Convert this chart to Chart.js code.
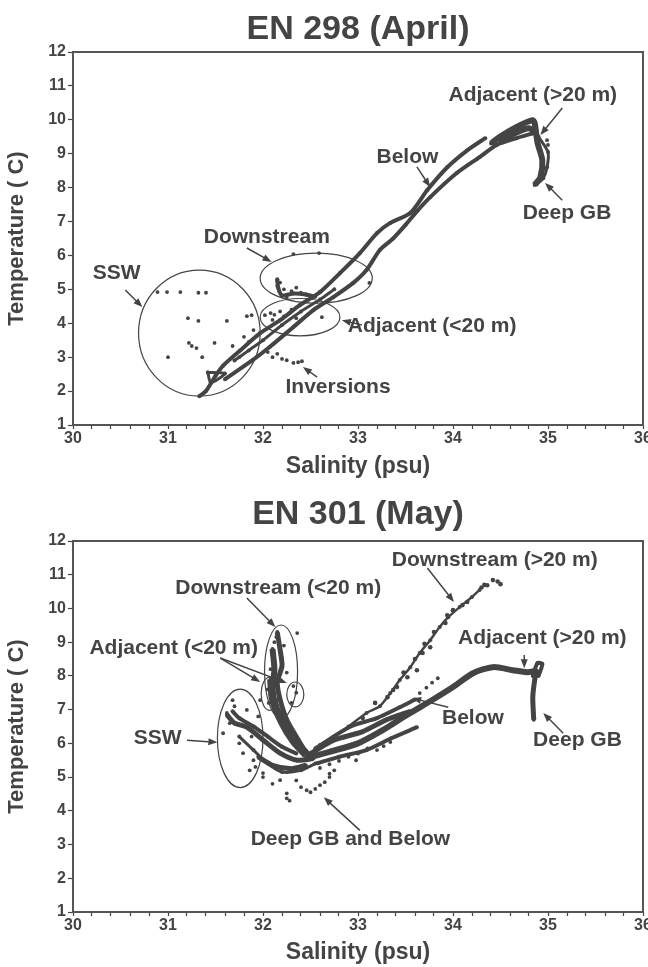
<!DOCTYPE html>
<html>
<head>
<meta charset="utf-8">
<script src="https://cdn.jsdelivr.net/npm/chart.js@4/dist/chart.umd.min.js"></script>
<style>
  body { margin: 0; background: #fff; }
  #wrap { position: relative; width: 648px; height: 967px; }
  canvas { position: absolute; left: 0; }
</style>
</head>
<body>
<div id="wrap">
  <canvas id="april" width="648" height="481" style="top:0;width:648px;height:481px"></canvas>
  <canvas id="may" width="648" height="486" style="top:481px;width:648px;height:486px"></canvas>
</div>
<script>
const INK = '#444';
const FONT = '"Liberation Sans", Arial, sans-serif';

// axis ranges
const salinityRange = [30, 36];
const temperatureRange = [1, 12];

// ---- EN 298 (April): [salinity, temperature]
const aprilUpper = [[31.33,1.85],[31.4,2.0],[31.5,2.45],[31.58,2.75],[31.76,3.2],[31.97,3.71],[32.18,4.09],[32.39,4.54],[32.6,4.92],[32.81,5.48],[33.02,6.07],[33.2,6.66],[33.34,6.96],[33.55,7.25],[33.73,7.93],[33.94,8.6],[34.15,9.1],[34.34,9.46]];
const aprilMiddle = [[31.7,2.9],[31.85,3.2],[32.0,3.5],[32.2,3.95],[32.4,4.35],[32.6,4.7],[32.75,5.0]];
const aprilLower = [[31.6,2.35],[31.89,2.91],[32.07,3.3],[32.32,3.89],[32.53,4.39],[32.74,4.77],[32.95,5.19],[33.09,5.57],[33.23,6.16],[33.37,6.5],[33.5,6.9],[33.62,7.3],[33.76,7.72],[34.04,8.43],[34.28,8.9],[34.46,9.26],[34.67,9.46],[34.84,9.6]];
const aprilWedge = [[31.42,2.55],[31.6,2.52],[31.45,2.25],[31.42,2.55]];
const aprilCluster = [[32.15,5.3],[32.16,5.05],[32.2,4.82],[32.32,4.88],[32.45,4.85],[32.55,4.78]];
const aprilPeak = [[34.4,9.3],[34.49,9.49],[34.67,9.79],[34.84,9.99],[34.86,9.9],[34.89,9.32],[34.94,8.81],[34.92,8.31],[34.86,8.08]];
const aprilPeakFill = [[34.5,9.35],[34.65,9.6],[34.8,9.75],[34.88,9.6]];
const aprilHookOuter = [[34.9,9.5],[35.0,9.05],[34.99,8.6],[34.95,8.28],[34.88,8.1]];
const aprilSSWDots = [[30.89,4.92],[30.99,4.92],[31.13,4.92],[31.32,4.9],[31.4,4.9],[31.21,4.15],[31.32,4.07],[31.62,4.07],[31.83,4.21],[31.88,4.24],[31.22,3.42],[31.25,3.33],[31.3,3.27],[31.36,3.0],[31.0,3.0],[31.49,3.42],[31.68,3.33],[31.8,3.6],[31.85,3.45],[31.75,3.0],[31.9,3.8]];
const aprilShallowDots = [[32.32,6.04],[32.59,6.07],[33.12,5.19],[32.15,5.25],[32.15,5.1],[32.17,4.95],[32.2,4.8],[32.18,5.2],[32.22,5.0],[32.3,4.95],[32.4,4.9],[32.45,4.85],[32.35,5.05],[32.25,4.75],[32.5,4.8],[32.02,4.24],[32.08,4.3],[32.12,4.25],[32.18,4.35],[32.22,4.2],[32.28,4.3],[32.35,4.15],[32.62,4.18],[32.1,4.1],[32.3,4.4]];
const aprilInversionDots = [[32.1,3.0],[32.15,3.1],[32.2,2.95],[32.25,2.91],[32.32,2.83],[32.37,2.85],[32.41,2.88],[32.05,3.15],[34.99,9.4],[35.0,9.26]];

// ---- EN 301 (May)
const mayDownDeep = [[32.6,5.95],[32.75,6.2],[32.9,6.5],[33.09,6.9],[33.23,7.1],[33.34,7.49],[33.44,7.88],[33.55,8.26],[33.65,8.68],[33.76,9.06],[33.86,9.45],[33.95,9.74],[34.07,10.04],[34.2,10.34],[34.28,10.55]];
const mayDownDeepDots = [[34.3,10.62],[34.36,10.69],[34.42,10.84],[34.47,10.8],[34.5,10.72],[34.33,10.7],[34.15,10.19],[33.94,9.8],[33.92,9.57],[33.76,8.85],[33.62,8.17],[33.52,7.96],[33.41,7.67],[33.31,7.37],[33.18,7.2],[33.05,6.75],[33.6,8.5],[33.8,9.3],[34.0,9.95],[34.1,10.1],[33.7,8.95],[33.48,8.1],[33.37,7.58],[33.68,8.68]];
const mayBelow = [[32.45,5.55],[32.7,5.75],[33.0,6.0],[33.26,6.39],[33.52,6.85],[33.79,7.3],[34.0,7.67],[34.21,8.08],[34.42,8.26],[34.63,8.17],[34.78,8.11],[34.88,8.15]];
const mayMiddle = [[32.55,5.85],[32.92,6.5],[33.2,6.75],[33.44,7.07],[33.6,7.3]];
const mayRightArm = [[32.57,5.41],[32.8,5.6],[33.09,5.8],[33.35,6.15],[33.62,6.48]];
const mayArmUpper = [[32.5,5.7],[32.75,6.1],[33.05,6.35],[33.3,6.7],[33.55,6.95]];
const mayDeepGB = [[34.88,8.15],[34.86,7.88],[34.84,7.37],[34.85,6.7]];
const maySpike = [[34.84,8.0],[34.89,8.38],[34.94,8.35],[34.9,8.0]];
const mayTrunk = [[32.15,9.3],[32.18,8.77],[32.2,8.3],[32.15,7.8],[32.18,7.3],[32.25,6.7],[32.35,6.2],[32.45,5.75],[32.52,5.55]];
const mayTrunkWide = [[32.08,7.9],[32.1,7.3],[32.2,6.6],[32.32,6.05],[32.45,5.65]];
const mayTrunkCore = [[32.1,8.8],[32.12,8.2],[32.1,7.6],[32.15,7.0],[32.28,6.4],[32.4,5.9],[32.5,5.6]];
const maySSW = [[31.62,6.85],[31.7,6.6],[31.83,6.48],[32.0,6.1],[32.18,5.71],[32.36,5.5],[32.53,5.55]];
const maySSWUpper = [[31.68,6.95],[31.75,6.75],[31.9,6.5],[32.05,6.2],[32.2,5.9],[32.35,5.7]];
const maySSWLow = [[31.75,6.2],[31.9,5.8],[32.05,5.4],[32.2,5.15],[32.4,5.2],[32.55,5.4]];
const mayCloud = [[31.95,5.6],[32.1,5.35],[32.3,5.25],[32.45,5.35]];
const mayLowDots = [[32.6,5.27],[32.7,5.38],[32.8,5.48],[32.9,5.6],[33.0,5.7],[33.1,5.85],[33.2,5.8],[33.27,5.92],[33.34,6.04],[32.98,5.5],[32.7,5.1],[32.75,5.2]];
const maySSWDots = [[31.68,7.28],[31.83,6.99],[31.97,7.28],[31.58,6.3],[31.79,5.71],[31.86,5.2],[31.7,7.1],[31.75,6.0],[31.9,5.5],[31.62,6.9],[31.95,6.8],[31.65,6.6],[31.88,6.2],[31.92,5.3],[32.0,5.0]];
const mayDeepDots = [[32.0,5.12],[32.18,4.91],[32.25,4.52],[32.46,4.61],[32.6,4.76],[32.25,4.37],[32.5,4.55],[32.55,4.65],[32.65,4.85],[32.4,4.7],[32.1,4.8],[32.28,4.3],[32.7,5.0],[32.35,4.9]];
const mayShallowDots = [[32.36,9.27],[32.12,9.0],[32.2,8.5],[32.1,8.6],[32.25,8.1],[32.05,7.6],[32.14,9.15],[32.22,8.9],[32.08,8.2],[32.3,7.2],[32.35,7.5],[32.32,7.7],[32.06,7.2]];
const mayBelowDots = [[33.65,7.49],[33.72,7.65],[33.78,7.8],[33.84,7.93]];

// annotations, in salinity/temperature units
const aprilNotes = {
  title: 'EN 298 (April)', titleY: 30,
  ellipses: [[31.33,3.71,0.64,1.86],[32.56,5.33,0.59,0.74],[32.39,4.18,0.42,0.55]],
  labels: [['Downstream',32.04,6.54],['SSW',30.46,5.48],['Adjacent (<20 m)',33.78,3.92],['Inversions',32.79,2.12],['Below',33.52,8.9],['Adjacent (>20 m)',34.84,10.73],['Deep GB',35.2,7.25]],
  arrows: [[31.83,6.22,32.09,5.81],[30.55,4.98,30.73,4.48],[33.04,3.95,32.83,4.09],[32.57,2.41,32.42,2.71],[33.62,8.61,33.76,8.02],[35.15,10.35,34.92,9.55],[35.15,7.63,34.97,8.14]]
};
const mayNotes = {
  title: 'EN 301 (May)', titleY: 34,
  ellipses: [[32.19,8.13,0.174,1.38],[32.07,7.47,0.09,0.49],[32.34,7.45,0.09,0.37],[31.76,6.15,0.24,1.46]],
  labels: [['Downstream (>20 m)',34.44,11.44],['Downstream (<20 m)',32.16,10.61],['Adjacent (<20 m)',31.06,8.82],['SSW',30.89,6.15],['Below',34.21,6.75],['Adjacent (>20 m)',34.94,9.12],['Deep GB',35.31,6.09],['Deep GB and Below',32.92,3.16]],
  arrows: [[33.73,11.2,34.01,10.19],[31.83,10.31,32.13,9.45],[31.55,8.53,31.97,7.82],[31.55,8.53,32.25,7.79],[31.2,6.09,31.52,6.03],[33.95,7.07,33.57,7.34],[34.75,8.62,34.75,8.23],[35.16,6.3,34.95,6.9],[33.02,3.42,32.64,4.4]]
};

const toXY = arr => arr.map(([s, t]) => ({x: s, y: t}));
const band = (arr, w) => ({data: toXY(arr), showLine: true, borderWidth: w, tension: 0.25,
  borderColor: INK, backgroundColor: INK, pointRadius: 2, pointBorderWidth: 0});
const dots = (arr, r) => ({data: toXY(arr), showLine: false, backgroundColor: INK,
  pointRadius: r || 1.9, pointBorderWidth: 0});

const framePlugin = {
  id: 'frame',
  beforeDatasetsDraw(chart) {
    const {ctx, chartArea: a} = chart;
    ctx.save();
    ctx.strokeStyle = '#555';
    ctx.lineWidth = 2;
    ctx.strokeRect(a.left, a.top, a.right - a.left, a.bottom - a.top);
    ctx.restore();
  }
};

const notesPlugin = {
  id: 'notes',
  afterDatasetsDraw(chart, args, opts) {
    const {ctx, chartArea, scales: {x, y}} = chart;
    const px = v => x.getPixelForValue(v), py = v => y.getPixelForValue(v);
    ctx.save();
    ctx.strokeStyle = INK;
    ctx.fillStyle = INK;
    ctx.lineWidth = 1.2;
    opts.ellipses.forEach(([cx, cy, rx, ry]) => {
      ctx.beginPath();
      ctx.ellipse(px(cx), py(cy), Math.abs(px(cx + rx) - px(cx)), Math.abs(py(cy + ry) - py(cy)), 0, 0, Math.PI * 2);
      ctx.stroke();
    });
    ctx.lineWidth = 1.5;
    opts.arrows.forEach(([s1, t1, s2, t2]) => {
      const x1 = px(s1), y1 = py(t1), x2 = px(s2), y2 = py(t2);
      const ang = Math.atan2(y2 - y1, x2 - x1);
      ctx.beginPath();
      ctx.moveTo(x1, y1);
      ctx.lineTo(x2 - 6 * Math.cos(ang), y2 - 6 * Math.sin(ang));
      ctx.stroke();
      ctx.beginPath();
      ctx.moveTo(x2, y2);
      ctx.lineTo(x2 - 9 * Math.cos(ang) + 3.5 * Math.sin(ang), y2 - 9 * Math.sin(ang) - 3.5 * Math.cos(ang));
      ctx.lineTo(x2 - 9 * Math.cos(ang) - 3.5 * Math.sin(ang), y2 - 9 * Math.sin(ang) + 3.5 * Math.cos(ang));
      ctx.closePath();
      ctx.fill();
    });
    ctx.textAlign = 'center';
    ctx.textBaseline = 'middle';
    ctx.font = 'bold 21px ' + FONT;
    opts.labels.forEach(([text, s, t]) => ctx.fillText(text, px(s), py(t)));
    // panel title, centred over the plot area
    ctx.font = 'bold 34px ' + FONT;
    ctx.fillText(opts.title, (chartArea.left + chartArea.right) / 2, opts.titleY);
    ctx.restore();
  }
};

function makeChart(id, topPad, xHeight, datasets, notes) {
  return new Chart(document.getElementById(id), {
    type: 'scatter',
    data: {datasets},
    options: {
      responsive: false,
      animation: false,
      layout: {padding: {left: 0, right: 5, top: topPad, bottom: 0}},
      scales: {
        x: {
          min: salinityRange[0], max: salinityRange[1],
          afterFit: s => { s.height = xHeight; s.paddingRight = 0; s.paddingTop = 0; },
          border: {display: false},
          grid: {drawOnChartArea: false, tickLength: 4, tickColor: INK, tickWidth: 1.2},
          ticks: {
            stepSize: 0.2, autoSkip: false, maxRotation: 0, padding: 0, color: INK,
            font: {family: FONT, size: 16, weight: 'bold'},
            callback: v => Math.abs(v - Math.round(v)) < 1e-6 ? String(Math.round(v)) : ''
          },
          title: {display: true, text: 'Salinity (psu)', color: INK,
            font: {family: FONT, size: 23, weight: 'bold'}, padding: {top: 0, bottom: 1}}
        },
        y: {
          min: temperatureRange[0], max: temperatureRange[1],
          afterFit: s => { s.width = 73; s.paddingTop = 0; },
          border: {display: false},
          grid: {drawOnChartArea: false, tickLength: 5, tickColor: INK, tickWidth: 1.2},
          ticks: {stepSize: 1, padding: 2, color: INK, font: {family: FONT, size: 16, weight: 'bold'}},
          title: {display: true, text: 'Temperature ( C)', color: INK,
            font: {family: FONT, size: 22, weight: 'bold'}, padding: {top: 4, bottom: 0}}
        }
      },
      plugins: {
        legend: {display: false},
        tooltip: {enabled: false},
        title: {display: false},
        notes
      }
    },
    plugins: [framePlugin, notesPlugin]
  });
}

makeChart('april', 52, 56, [
  band(aprilUpper, 4), band(aprilMiddle, 3), band(aprilLower, 4), band(aprilWedge, 3),
  band(aprilCluster, 4), band(aprilPeak, 6), band(aprilPeakFill, 6), band(aprilHookOuter, 3),
  dots(aprilSSWDots), dots(aprilShallowDots), dots(aprilInversionDots)
], aprilNotes);

makeChart('may', 60, 55, [
  band(mayDownDeep, 2.5), dots(mayDownDeepDots, 2.3), band(mayBelow, 6), band(mayMiddle, 4),
  band(mayRightArm, 4), band(mayArmUpper, 5), band(mayDeepGB, 5), band(maySpike, 4),
  band(mayTrunk, 5), band(mayTrunkWide, 7), band(mayTrunkCore, 6), band(maySSW, 5),
  band(maySSWUpper, 4), band(maySSWLow, 3), band(mayCloud, 5), dots(mayLowDots),
  dots(maySSWDots), dots(mayDeepDots), dots(mayShallowDots), dots(mayBelowDots)
], mayNotes);
</script>
</body>
</html>
